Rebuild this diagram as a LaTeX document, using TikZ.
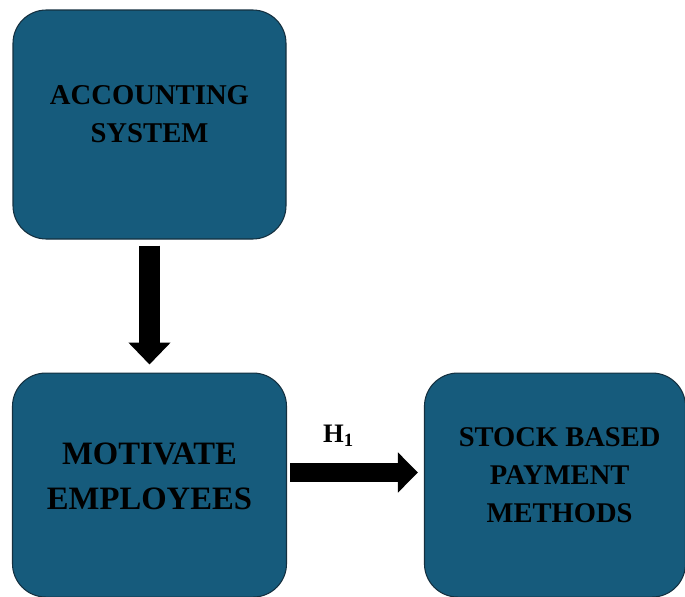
\documentclass[tikz,border=0pt]{standalone}
\usepackage{fontspec}
\setmainfont{Liberation Serif}
\usetikzlibrary{arrows.meta, positioning}
\definecolor{boxblue}{RGB}{22,91,124}
\definecolor{boxedge}{RGB}{20,48,64}

\begin{document}
\begin{tikzpicture}[x=0.75pt, y=-0.75pt, on grid,
    block/.style={draw=boxedge, line width=0.8pt, fill=boxblue, rounded corners=25pt},
    blocktext/.style={align=center, inner sep=0pt}]

    \useasboundingbox (0,0) rectangle (685,596);

    \node (acc) [block, minimum width=204.75pt, minimum height=171.75pt] at (149.5,124.5) {};
    \node (mot) [block, below = 270.4pt of acc, minimum width=205.5pt, minimum height=168pt] {};
    \node (sbp) [block, right = 304.1pt of mot, minimum width=195.75pt, minimum height=168pt] {};

    \node (acctxt) [blocktext, font=\fontsize{21.5}{28.5}\selectfont\bfseries] at ([yshift=7.5pt]acc.center) {ACCOUNTING\\SYSTEM};
    \node (mottxt) [blocktext, font=\fontsize{24.5}{33.75}\selectfont\bfseries] at ([yshift=6.4pt]mot.center) {MOTIVATE\\EMPLOYEES};
    \node (sbptxt) [blocktext, font=\fontsize{21.4}{28.5}\selectfont\bfseries] at ([xshift=3.5pt, yshift=7.1pt]sbp.center) {STOCK BASED\\PAYMENT\\METHODS};

    \draw [line width=15.75pt, -{Triangle[width=30.75pt, length=16.5pt]}, shorten <=4.5pt, shorten >=6pt]
        (acc.south) -- (mot.north);
    \draw [line width=14.25pt, -{Triangle[width=29.25pt, length=15pt]}, shorten <=2.25pt, shorten >=4.5pt]
        ([yshift=9.4pt]mot.east) -- ([yshift=9.4pt]sbp.west)
        node (h1) [midway, xshift=-12.75pt, yshift=27.4pt, font=\fontsize{20}{24}\selectfont\bfseries] {H\textsubscript{1}};

\end{tikzpicture}
\end{document}
